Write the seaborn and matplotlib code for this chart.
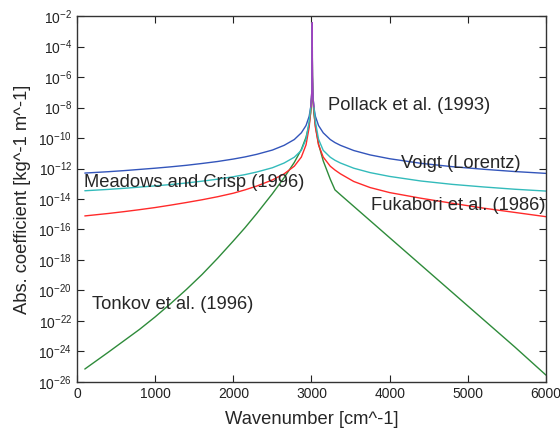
import numpy as np
import matplotlib
matplotlib.use('Agg')
import matplotlib.pyplot as plt
import seaborn as sns
from matplotlib.ticker import LogFormatterMathtext, NullLocator

# Wavenumber grid [cm^-1], denser near the line centre
WAVENUMBER = [100, 400, 600, 800, 1000, 1200, 1400, 1600, 1800, 2000,
              2150, 2300, 2500, 2650, 2780, 2870, 2930, 2970, 2990, 3000,
              3005, 3008, 3009.5, 3010, 3010.5, 3012, 3015, 3020, 3030, 3050,
              3090, 3150, 3240, 3300, 3370, 3540, 3750, 4000, 4400, 4800,
              5200, 5600, 6000]

# log10 of absorption coefficient
VOIGT_EXP = [-12.30, -12.21, -12.14, -12.06, -11.98, -11.89, -11.79, -11.67, -11.54, -11.38,
             -11.24, -11.07, -10.79, -10.48, -10.10, -9.66, -9.18, -8.58, -7.97, -7.37,
             -6.77, -5.97, -4.77, -2.44, -4.77, -5.97, -6.77, -7.37, -7.97, -8.58,
             -9.18, -9.66, -10.10, -10.30, -10.48, -10.82, -11.11, -11.36, -11.66, -11.88,
             -12.05, -12.20, -12.32]
TONKOV_EXP = [-25.15, -24.05, -23.30, -22.55, -21.73, -20.85, -19.93, -18.95, -17.88, -16.75,
              -15.88, -14.95, -13.65, -12.60, -11.60, -10.75, -9.95, -9.10, -8.35, -7.55,
              -6.85, -6.00, -4.80, -2.44, -4.80, -6.00, -6.85, -7.55, -8.35, -9.20,
              -10.40, -11.50, -12.70, -13.40, -13.72, -14.48, -15.42, -16.54, -18.33, -20.12,
              -21.91, -23.70, -25.55]
FUKABORI_EXP = [-15.11, -14.95, -14.83, -14.70, -14.56, -14.40, -14.23, -14.05, -13.85, -13.62,
                -13.40, -13.15, -12.75, -12.35, -11.85, -11.25, -10.45, -9.30, -8.20, -7.45,
                -6.80, -5.97, -4.77, -2.44, -4.77, -5.97, -6.80, -7.45, -8.20, -9.30,
                -10.45, -11.25, -11.85, -12.10, -12.35, -12.85, -13.25, -13.58, -13.95, -14.28,
                -14.60, -14.88, -15.16]
MEADOWS_EXP = [-13.46, -13.37, -13.30, -13.22, -13.14, -13.05, -12.95, -12.83, -12.70, -12.54,
               -12.40, -12.23, -11.95, -11.64, -11.26, -10.81, -10.08, -8.93, -7.97, -7.37,
               -6.77, -5.97, -4.77, -2.44, -4.77, -5.97, -6.77, -7.37, -7.97, -8.93,
               -10.08, -10.81, -11.26, -11.46, -11.64, -11.98, -12.27, -12.52, -12.82, -13.04,
               -13.21, -13.36, -13.48]

# Pollack profile only exists close to the line centre (cut off beyond)
POLLACK_WN = [2990, 3000, 3005, 3008, 3009.5, 3010, 3010.5, 3012, 3015, 3020, 3030]
POLLACK_EXP = [-7.97, -7.37, -6.77, -5.97, -4.77, -2.44, -4.77, -5.97, -6.77, -7.37, -7.97]

# label text, x position, log10 y position
LABELS = ['Pollack et al. (1993)', 'Voigt (Lorentz)', 'Meadows and Crisp (1996)',
          'Fukabori et al. (1986)', 'Tonkov et al. (1996)']
LABEL_X = [3211, 4141, 90, 3757, 192]
LABEL_EXP = [-7.9, -11.64, -12.95, -14.44, -20.93]

sns.set_style('ticks')
plt.rcParams['font.family'] = ['Liberation Sans', 'DejaVu Sans']

fig, ax = plt.subplots(figsize=(5.6, 4.28), dpi=100)
fig.subplots_adjust(left=0.1375, right=0.975, top=0.9626, bottom=0.1075)

series = [
    (WAVENUMBER, VOIGT_EXP, '#3355bb'),
    (WAVENUMBER, TONKOV_EXP, '#2e8b3a'),
    (WAVENUMBER, FUKABORI_EXP, '#ff2a2a'),
    (WAVENUMBER, MEADOWS_EXP, '#33bbbb'),
    (POLLACK_WN, POLLACK_EXP, '#a040c0'),
]
for wn, ex, col in series:
    sns.lineplot(x=wn, y=np.power(10.0, ex), ax=ax, color=col, lw=1.0,
                 estimator=None, sort=False)

ax.set_yscale('log')
ax.set_xlim(0, 6000)
ax.set_ylim(1e-26, 1e-2)
ax.set_yticks([10.0 ** e for e in range(-26, -1, 2)])
ax.yaxis.set_major_formatter(LogFormatterMathtext())
ax.yaxis.set_minor_locator(NullLocator())
ax.set_xticks(range(0, 6001, 1000))
ax.tick_params(direction='in', top=True, right=True, length=5, width=0.8,
               labelsize=10, colors='#222222')
for sp in ax.spines.values():
    sp.set_visible(True)
    sp.set_color('#333333')
    sp.set_linewidth(1.0)

for txt, lx, le in zip(LABELS, LABEL_X, LABEL_EXP):
    ax.text(lx, 10.0 ** le, txt, fontsize=13.2, va='center', ha='left')

ax.set_xlabel('Wavenumber [cm^-1]', fontsize=13.2, labelpad=7)
ax.set_ylabel('Abs. coefficient [kg^-1 m^-1]', fontsize=13.2, labelpad=5)

fig.savefig('out.png', dpi=100)
